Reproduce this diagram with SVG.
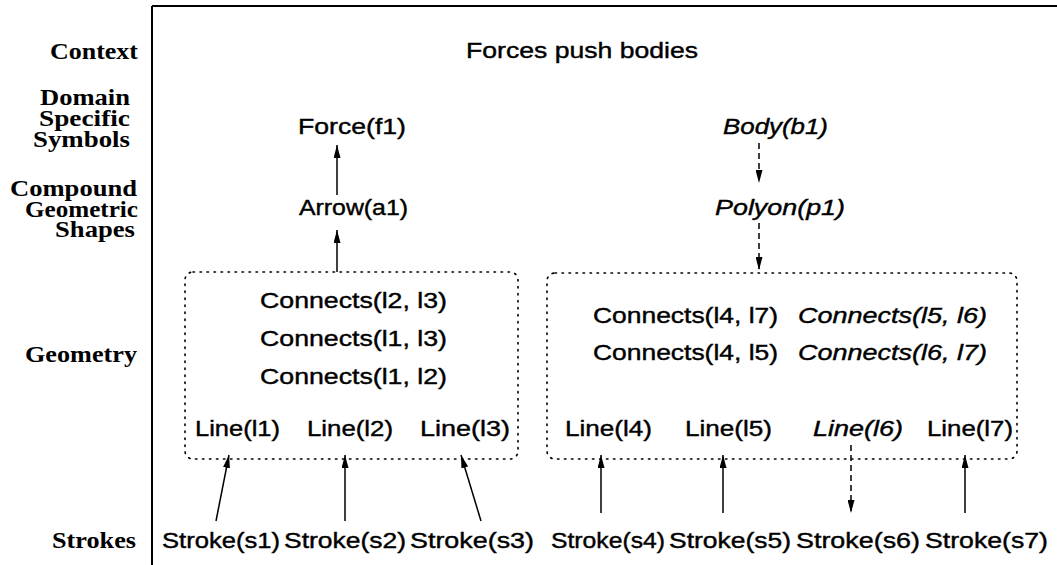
<svg xmlns="http://www.w3.org/2000/svg" width="1057" height="565" viewBox="0 0 1057 565">
<style>
.lab{font-family:"Liberation Serif","Times New Roman",serif;font-weight:bold;font-size:23px;fill:#000}
.t{font-family:"Liberation Sans",Arial,sans-serif;font-size:22px;fill:#000;stroke:#000;stroke-width:0.4}
.i{font-style:italic}
.frame{stroke:#000;stroke-width:2;fill:none}
.box{fill:none;stroke:#000;stroke-width:1.6;stroke-dasharray:1.5 5.5;stroke-linecap:round}
.c{stroke:#000;stroke-width:1.5;fill:none}
.d{stroke-dasharray:6 4}
</style>
<defs>
<marker id="ah" viewBox="0 0 13 7" refX="13" refY="3.5" markerWidth="13" markerHeight="7" markerUnits="userSpaceOnUse" orient="auto">
<path d="M0,0 L13,3.5 L0,7 Z" fill="#000"/>
</marker>
</defs>
<rect width="1057" height="565" fill="#fff"/>
<g id="frame">
<line class="frame" x1="152" y1="6" x2="1057" y2="6"/>
<line class="frame" x1="152" y1="6" x2="152" y2="565"/>
</g>
<g id="levels">
<text class="lab" x="50" y="59" textLength="88" lengthAdjust="spacingAndGlyphs">Context</text>
<text class="lab" x="40" y="105" textLength="90" lengthAdjust="spacingAndGlyphs">Domain</text>
<text class="lab" x="39" y="126" textLength="91" lengthAdjust="spacingAndGlyphs">Specific</text>
<text class="lab" x="33" y="147" textLength="97" lengthAdjust="spacingAndGlyphs">Symbols</text>
<text class="lab" x="10" y="196" textLength="127" lengthAdjust="spacingAndGlyphs">Compound</text>
<text class="lab" x="25" y="217" textLength="113" lengthAdjust="spacingAndGlyphs">Geometric</text>
<text class="lab" x="55" y="237" textLength="80" lengthAdjust="spacingAndGlyphs">Shapes</text>
<text class="lab" x="25" y="362" textLength="112" lengthAdjust="spacingAndGlyphs">Geometry</text>
<text class="lab" x="52" y="548" textLength="84" lengthAdjust="spacingAndGlyphs">Strokes</text>
</g>
<g id="context"><text class="t" x="466" y="58" textLength="232" lengthAdjust="spacingAndGlyphs">Forces push bodies</text></g>
<g id="force"><text class="t" x="298" y="134" textLength="108" lengthAdjust="spacingAndGlyphs">Force(f1)</text></g>
<g id="body"><text class="t i" x="723" y="134" textLength="105" lengthAdjust="spacingAndGlyphs">Body(b1)</text></g>
<g id="arrow"><text class="t" x="299" y="215" textLength="109" lengthAdjust="spacingAndGlyphs">Arrow(a1)</text></g>
<g id="polyon"><text class="t i" x="715" y="215" textLength="130" lengthAdjust="spacingAndGlyphs">Polyon(p1)</text></g>
<g id="geomLeft">
<rect class="box" x="185" y="272" width="333" height="187" rx="8"/>
<text class="t" x="260" y="308" textLength="187" lengthAdjust="spacingAndGlyphs">Connects(l2, l3)</text>
<text class="t" x="260" y="346" textLength="187" lengthAdjust="spacingAndGlyphs">Connects(l1, l3)</text>
<text class="t" x="260" y="384" textLength="187" lengthAdjust="spacingAndGlyphs">Connects(l1, l2)</text>
</g>
<g id="line1"><text class="t" x="195" y="436" textLength="85" lengthAdjust="spacingAndGlyphs">Line(l1)</text></g>
<g id="line2"><text class="t" x="307" y="436" textLength="86" lengthAdjust="spacingAndGlyphs">Line(l2)</text></g>
<g id="line3"><text class="t" x="420" y="436" textLength="90" lengthAdjust="spacingAndGlyphs">Line(l3)</text></g>
<g id="geomRight">
<rect class="box" x="547" y="273" width="470" height="186" rx="8"/>
<text class="t" x="593" y="323" textLength="185" lengthAdjust="spacingAndGlyphs">Connects(l4, l7)</text>
<text class="t i" x="798" y="323" textLength="189" lengthAdjust="spacingAndGlyphs">Connects(l5, l6)</text>
<text class="t" x="593" y="360" textLength="185" lengthAdjust="spacingAndGlyphs">Connects(l4, l5)</text>
<text class="t i" x="798" y="360" textLength="189" lengthAdjust="spacingAndGlyphs">Connects(l6, l7)</text>
</g>
<g id="line4"><text class="t" x="565" y="436" textLength="87" lengthAdjust="spacingAndGlyphs">Line(l4)</text></g>
<g id="line5"><text class="t" x="685" y="436" textLength="87" lengthAdjust="spacingAndGlyphs">Line(l5)</text></g>
<g id="line6"><text class="t i" x="813" y="436" textLength="90" lengthAdjust="spacingAndGlyphs">Line(l6)</text></g>
<g id="line7"><text class="t" x="927" y="436" textLength="86" lengthAdjust="spacingAndGlyphs">Line(l7)</text></g>
<g id="s1"><text class="t" x="162" y="548" textLength="118" lengthAdjust="spacingAndGlyphs">Stroke(s1)</text></g>
<g id="s2"><text class="t" x="284" y="548" textLength="122" lengthAdjust="spacingAndGlyphs">Stroke(s2)</text></g>
<g id="s3"><text class="t" x="410" y="548" textLength="124" lengthAdjust="spacingAndGlyphs">Stroke(s3)</text></g>
<g id="s4"><text class="t" x="551" y="548" textLength="114" lengthAdjust="spacingAndGlyphs">Stroke(s4)</text></g>
<g id="s5"><text class="t" x="669" y="548" textLength="122" lengthAdjust="spacingAndGlyphs">Stroke(s5)</text></g>
<g id="s6"><text class="t" x="796" y="548" textLength="124" lengthAdjust="spacingAndGlyphs">Stroke(s6)</text></g>
<g id="s7"><text class="t" x="925" y="548" textLength="123" lengthAdjust="spacingAndGlyphs">Stroke(s7)</text></g>
<g id="connectors">
<line class="c" x1="337" y1="195" x2="337" y2="145" marker-end="url(#ah)"/>
<line class="c" x1="337" y1="272" x2="337" y2="230" marker-end="url(#ah)"/>
<line class="c d" x1="759" y1="143" x2="759" y2="183" marker-end="url(#ah)"/>
<line class="c d" x1="759" y1="223" x2="759" y2="270" marker-end="url(#ah)"/>
<line class="c" x1="216" y1="521" x2="229" y2="455" marker-end="url(#ah)"/>
<line class="c" x1="345" y1="521" x2="345" y2="455" marker-end="url(#ah)"/>
<line class="c" x1="481" y1="521" x2="461" y2="455" marker-end="url(#ah)"/>
<line class="c" x1="601" y1="513" x2="601" y2="455" marker-end="url(#ah)"/>
<line class="c" x1="723" y1="513" x2="723" y2="455" marker-end="url(#ah)"/>
<line class="c d" x1="851" y1="445" x2="851" y2="513" marker-end="url(#ah)"/>
<line class="c" x1="965" y1="513" x2="965" y2="455" marker-end="url(#ah)"/>
</g>
</svg>
